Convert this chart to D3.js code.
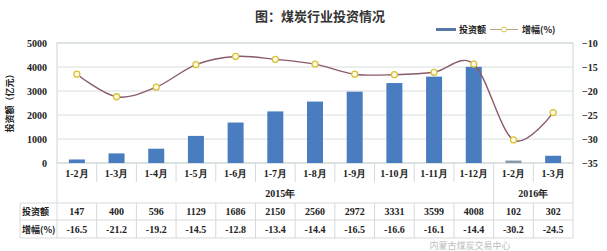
<!DOCTYPE html>
<html>
<head>
<meta charset="utf-8">
<script src="https://cdn.jsdelivr.net/npm/d3@7"></script>
<style>
  body { margin: 0; background: #fff; }
  svg { display: block; }
</style>
</head>
<body>
<svg id="chart" width="607" height="251"></svg>
<script>
// data
const months = ['1-2月', '1-3月', '1-4月', '1-5月', '1-6月', '1-7月', '1-8月', '1-9月', '1-10月', '1-11月', '1-12月', '1-2月', '1-3月']
const years = [{label: '2015年', from: 0, to: 11}, {label: '2016年', from: 11, to: 13}]
const invest = [147, 400, 596, 1129, 1686, 2150, 2560, 2972, 3331, 3599, 4008, 102, 302]
const growth = [-16.5, -21.2, -19.2, -14.5, -12.8, -13.4, -14.4, -16.5, -16.6, -16.1, -14.4, -30.2, -24.5]
const leftTicks = [0, 1000, 2000, 3000, 4000, 5000]
const rightTicks = [-35, -30, -25, -20, -15, -10]

const serif = '"Liberation Serif", "DejaVu Serif", serif'
const cjk = '"Noto Sans CJK SC", sans-serif'
const barColor = '#4a7dbf'
const lineColor = '#8a5a6e'
const gridColor = '#d9dede'

const plot = {left: 57, right: 573, top: 43, bottom: 163}
const tableLeft = 20

const svg = d3.select('#chart')

const x = d3.scaleBand().domain(d3.range(months.length)).range([plot.left, plot.right])
const yL = d3.scaleLinear().domain([0, 5000]).range([plot.bottom, plot.top])
const yR = d3.scaleLinear().domain([-35, -10]).range([plot.bottom, plot.top])

// title
svg.append('text')
    .attr('x', 320).attr('y', 21)
    .attr('text-anchor', 'middle')
    .attr('font-family', cjk).attr('font-weight', 'bold').attr('font-size', 13)
    .attr('fill', '#333')
    .text('图：煤炭行业投资情况')

// legend
svg.append('rect').attr('x', 436).attr('y', 28).attr('width', 20).attr('height', 3).attr('fill', '#5a78a6')
svg.append('text').attr('x', 459).attr('y', 33)
    .attr('font-family', cjk).attr('font-weight', 'bold').attr('font-size', 9).attr('fill', '#222')
    .text('投资额')
svg.append('line').attr('x1', 490).attr('x2', 518).attr('y1', 29.5).attr('y2', 29.5)
    .attr('stroke', '#b9a98a').attr('stroke-width', 1)
svg.append('circle').attr('cx', 504).attr('cy', 29.5).attr('r', 2.5)
    .attr('fill', '#fff').attr('stroke', '#d8c64a').attr('stroke-width', 1)
svg.append('text').attr('x', 522).attr('y', 33)
    .attr('font-family', cjk).attr('font-weight', 'bold').attr('font-size', 9).attr('fill', '#222')
    .text('增幅(%)')

// grid
svg.append('g').selectAll('line').data(leftTicks).enter()
    .append('line')
        .attr('x1', plot.left).attr('x2', plot.right)
        .attr('y1', d => yL(d)).attr('y2', d => yL(d))
        .attr('stroke', gridColor).attr('stroke-width', 1)

// plot frame
svg.append('rect')
    .attr('x', plot.left).attr('y', plot.top)
    .attr('width', plot.right - plot.left).attr('height', plot.bottom - plot.top)
    .attr('fill', 'none').attr('stroke', '#c9d6d6')

// left axis
const leftAxis = d3.axisLeft(yL).tickValues(leftTicks).tickFormat(d3.format('d')).tickSize(0).tickPadding(10)
svg.append('g').attr('transform', `translate(${plot.left},0)`)
    .call(leftAxis)
    .call(g => g.select('.domain').remove())
    .call(g => g.selectAll('text')
        .attr('font-family', serif).attr('font-weight', 'bold').attr('font-size', 10).attr('fill', '#222'))

// right axis
const rightAxis = d3.axisRight(yR).tickValues(rightTicks).tickFormat(d3.format('d')).tickSize(0).tickPadding(9)
svg.append('g').attr('transform', `translate(${plot.right},0)`)
    .call(rightAxis)
    .call(g => g.select('.domain').remove())
    .call(g => g.selectAll('text')
        .attr('font-family', serif).attr('font-weight', 'bold').attr('font-size', 10).attr('fill', '#222'))

// left axis title
svg.append('text')
    .attr('transform', 'translate(13,101) rotate(-90)')
    .attr('text-anchor', 'middle')
    .attr('font-family', cjk).attr('font-weight', 'bold').attr('font-size', 9).attr('fill', '#222')
    .text('投资额（亿元）')

// bars
const bw = 16
svg.append('g').selectAll('rect').data(invest).enter()
    .append('rect')
        .attr('x', (d, i) => x(i) + x.bandwidth() / 2 - bw / 2)
        .attr('y', d => yL(d))
        .attr('width', bw)
        .attr('height', d => plot.bottom - yL(d))
        .attr('fill', (d, i) => i === 11 ? '#8a97a8' : barColor)

// growth line, smoothed like excel
const line = d3.line()
    .x((d, i) => x(i) + x.bandwidth() / 2)
    .y(d => yR(d))
    .curve(d3.curveCardinal.tension(0))

svg.append('path')
    .datum(growth)
    .attr('d', line)
    .attr('fill', 'none')
    .attr('stroke', lineColor)
    .attr('stroke-width', 1.4)

svg.append('g').selectAll('circle').data(growth).enter()
    .append('circle')
        .attr('cx', (d, i) => x(i) + x.bandwidth() / 2)
        .attr('cy', d => yR(d))
        .attr('r', 3)
        .attr('fill', '#fffbe6')
        .attr('stroke', '#d6c238')
        .attr('stroke-width', 1.3)

// table under the plot
const rows = {catBottom: 182, yearBottom: 203, mid: 220, bottom: 238}
const tg = svg.append('g').attr('stroke', '#d5d9dc').attr('stroke-width', 1)

// category column separators
tg.selectAll('.cat-sep').data(d3.range(months.length + 1)).enter()
    .append('line')
        .attr('x1', i => i < months.length ? x(i) : plot.right)
        .attr('x2', i => i < months.length ? x(i) : plot.right)
        .attr('y1', plot.bottom).attr('y2', rows.catBottom)

// year row separators
tg.selectAll('.year-sep').data([0, 11, 13]).enter()
    .append('line')
        .attr('x1', i => i < months.length ? x(i) : plot.right)
        .attr('x2', i => i < months.length ? x(i) : plot.right)
        .attr('y1', rows.catBottom).attr('y2', rows.yearBottom)

// data table grid
tg.selectAll('.row-line').data([rows.yearBottom, rows.mid, rows.bottom]).enter()
    .append('line')
        .attr('x1', tableLeft).attr('x2', plot.right)
        .attr('y1', d => d).attr('y2', d => d)
tg.selectAll('.col-line').data(d3.range(-1, months.length + 1)).enter()
    .append('line')
        .attr('x1', i => i < 0 ? tableLeft : i < months.length ? x(i) : plot.right)
        .attr('x2', i => i < 0 ? tableLeft : i < months.length ? x(i) : plot.right)
        .attr('y1', rows.yearBottom).attr('y2', rows.bottom)

const cx = i => x(i) + x.bandwidth() / 2

svg.append('g').selectAll('text').data(months).enter()
    .append('text')
        .attr('x', (d, i) => cx(i)).attr('y', 177)
        .attr('text-anchor', 'middle')
        .attr('font-family', serif).attr('font-weight', 'bold').attr('font-size', 10).attr('fill', '#222')
        .text(d => d)

svg.append('g').selectAll('text').data(years).enter()
    .append('text')
        .attr('x', d => d.to === months.length ? (x(d.from) + plot.right) / 2 : x(5) + x.bandwidth() / 2 + 5)
        .attr('y', 197)
        .attr('text-anchor', 'middle')
        .attr('font-family', serif).attr('font-weight', 'bold').attr('font-size', 10).attr('fill', '#222')
        .text(d => d.label)

const rowHead = [['投资额', 215], ['增幅(%)', 233]]
svg.append('g').selectAll('text').data(rowHead).enter()
    .append('text')
        .attr('x', tableLeft + 2).attr('y', d => d[1])
        .attr('font-family', cjk).attr('font-weight', 'bold').attr('font-size', 9).attr('fill', '#222')
        .text(d => d[0])

svg.append('g').selectAll('text').data(invest).enter()
    .append('text')
        .attr('x', (d, i) => cx(i)).attr('y', 215)
        .attr('text-anchor', 'middle')
        .attr('font-family', serif).attr('font-weight', 'bold').attr('font-size', 10).attr('fill', '#222')
        .text(d => d)

svg.append('g').selectAll('text').data(growth).enter()
    .append('text')
        .attr('x', (d, i) => cx(i)).attr('y', 233)
        .attr('text-anchor', 'middle')
        .attr('font-family', serif).attr('font-weight', 'bold').attr('font-size', 10).attr('fill', '#222')
        .text(d => d.toFixed(1))

// faint watermark, kept just under the table so it does not cover the numbers
svg.append('text')
    .attr('x', 470).attr('y', 249)
    .attr('text-anchor', 'middle')
    .attr('font-family', cjk).attr('font-size', 9).attr('fill', '#bdbdbd')
    .text('内蒙古煤炭交易中心')
</script>
</body>
</html>
